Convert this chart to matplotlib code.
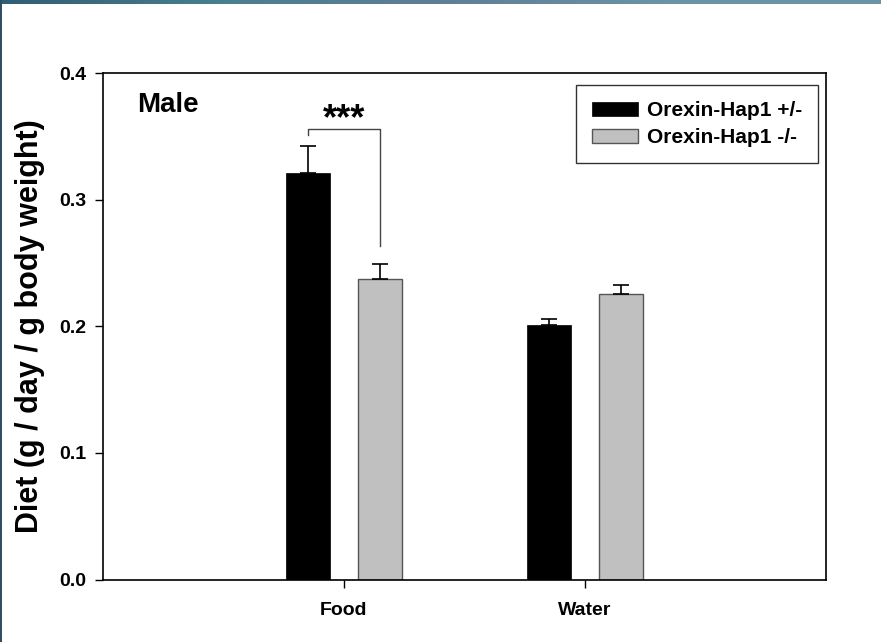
import numpy as np
import matplotlib
matplotlib.use("Agg")
import matplotlib.pyplot as plt
from matplotlib.patches import Rectangle
from matplotlib.colors import LinearSegmentedColormap

plt.rcParams['font.family'] = ['Liberation Sans', 'DejaVu Sans']
plt.rcParams['font.weight'] = 'bold'

# Daily intake normalised to body weight
categories = ["Food", "Water"]
series_names = ["Orexin-Hap1 +/-", "Orexin-Hap1 -/-"]
het_means = [0.321, 0.201]
het_sem = [0.021, 0.005]
ko_means = [0.237, 0.2255]
ko_sem = [0.0125, 0.007]
y_ticks = [0.0, 0.1, 0.2, 0.3, 0.4]

fig = plt.figure(figsize=(8.81, 6.42), dpi=100)

# slide-style frame strips
top = fig.add_axes([0, 1 - 4 / 642, 1, 4 / 642])
grad = np.linspace(0, 1, 256)[None, :]
cmap = LinearSegmentedColormap.from_list("strip", ["#2f5f72", "#4a7e8e", "#5f7f94", "#6a93a3", "#6c93a5"])
top.imshow(grad, aspect="auto", cmap=cmap, extent=[0, 1, 0, 1])
top.axis("off")
left = fig.add_axes([0, 0, 2 / 881, 1])
left.add_patch(Rectangle((0, 0), 1, 1, color="#2e4f62"))
left.axis("off")

ax = fig.add_axes([103 / 881, 1 - 579.5 / 642, 723 / 881, (579.5 - 73) / 642])

x = np.arange(1, len(categories) + 1)
width = 0.18
offset = 0.15

ax.bar(x - offset, het_means, width, color="black", edgecolor="black", linewidth=0.5,
       label=series_names[0], zorder=2)
ax.bar(x + offset, ko_means, width, color="#c0c0c0", edgecolor="#555555", linewidth=1.0,
       label=series_names[1], zorder=2)
ax.errorbar(x - offset, het_means, yerr=[np.zeros(len(het_sem)), het_sem], fmt="none",
            ecolor="black", elinewidth=1.2, capsize=5.7, capthick=1.2, zorder=3)
ax.errorbar(x + offset, ko_means, yerr=[np.zeros(len(ko_sem)), ko_sem], fmt="none",
            ecolor="black", elinewidth=1.2, capsize=5.7, capthick=1.2, zorder=3)

# significance bracket between Food groups
y_br = 0.356
ax.plot([x[0] - offset, x[0] - offset, x[0] + offset, x[0] + offset],
        [0.351, y_br, y_br, 0.263], color="#444444", linewidth=1.0, zorder=3)
ax.text(x[0], 0.349, "***", ha="center", va="bottom", fontsize=26, fontweight="bold")

ax.text(0.14, 0.375, "Male", ha="left", va="center", fontsize=20, fontweight="bold")

ax.set_xlim(0, 3)
ax.set_ylim(0, 0.4)
ax.set_xticks(x)
ax.set_xticklabels(categories, fontsize=14, fontweight="bold")
ax.set_yticks(y_ticks)
ax.set_yticklabels([f"{v:.1f}" for v in y_ticks], fontsize=14, fontweight="bold")
ax.tick_params(direction="out", length=6, width=1, pad=6)
ax.tick_params(axis="x", pad=10)
for s in ax.spines.values():
    s.set_linewidth(1.2)

ax.set_ylabel("Diet (g / day / g body weight)", fontsize=22, fontweight="bold", labelpad=10)

leg = ax.legend(loc="upper right", bbox_to_anchor=(0.989, 0.976), fontsize=15,
                frameon=True, fancybox=False, edgecolor="black", handlelength=2.2,
                handleheight=0.67, borderpad=0.77, labelspacing=0.38, handletextpad=0.43,
                borderaxespad=0)
leg.get_frame().set_linewidth(1.0)

fig.savefig("out.png", dpi=100)
